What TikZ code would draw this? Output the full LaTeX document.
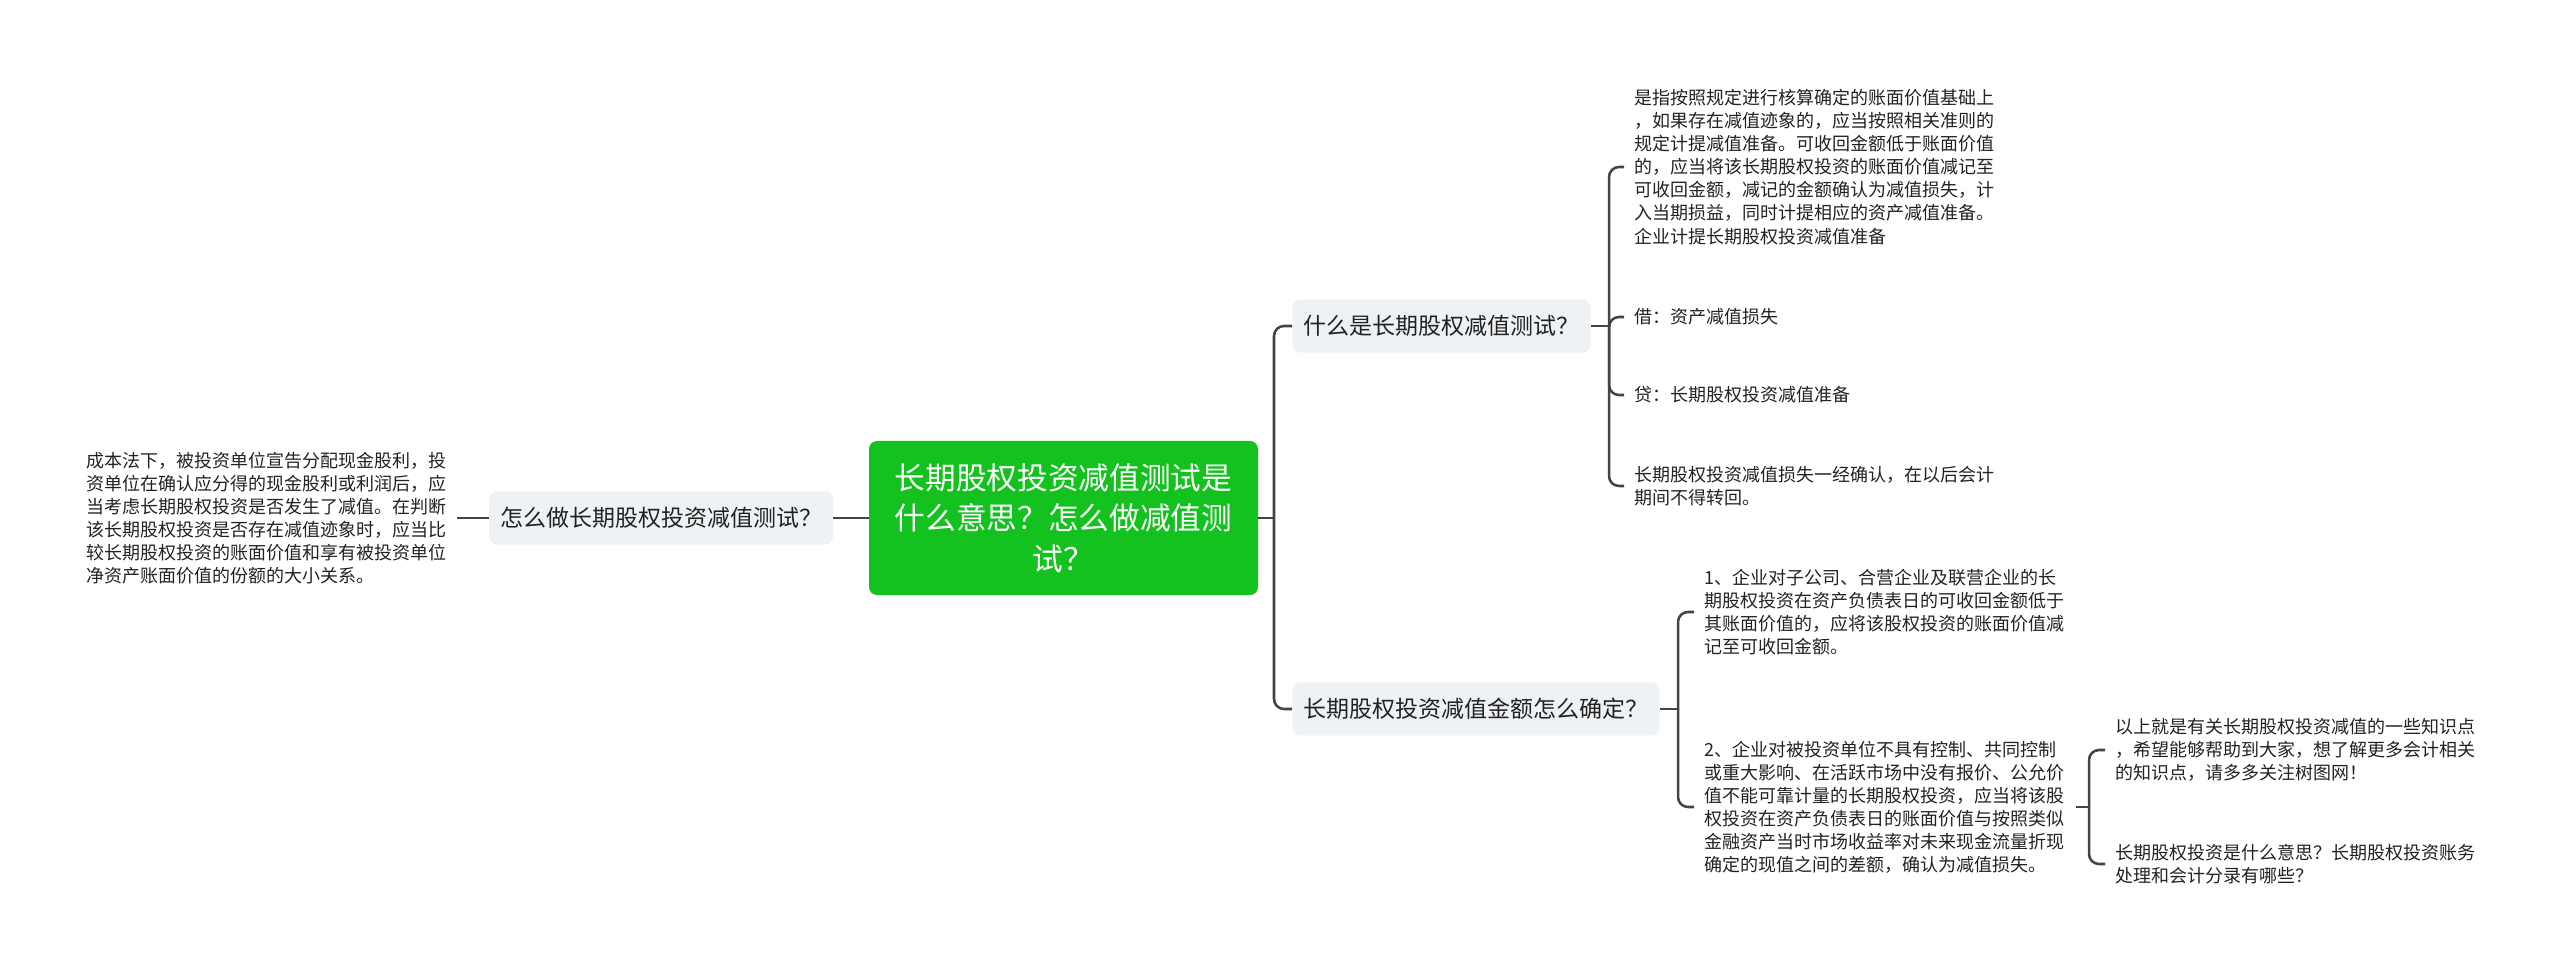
\documentclass[tikz,border=0pt]{standalone}
\usepackage{fontspec}
\setmainfont{Noto Sans CJK SC}
\newcommand{\cm}{^^^^ff0c}
\newcommand{\qm}{^^^^ff1f}
\newcommand{\cl}{^^^^ff1a}
\newcommand{\xm}{^^^^ff01}
\definecolor{rootgreen}{HTML}{13C11F}
\definecolor{topicgray}{HTML}{EFF2F5}
\definecolor{linkgray}{HTML}{444444}
\definecolor{inkgray}{HTML}{222222}
\tikzset{
  rootbox/.style={fill=rootgreen,text=white,rounded corners=6pt,align=center,inner sep=0pt,
    minimum width=291.75pt,minimum height=115.5pt,font=\fontsize{23pt}{30.4pt}\selectfont},
  topicbox/.style={fill=topicgray,text=inkgray,rounded corners=6pt,inner xsep=8.25pt,inner ysep=0pt,
    minimum height=40pt,font=\fontsize{17.25pt}{22pt}\selectfont},
  leaf/.style={text=inkgray,align=left,inner xsep=8pt,inner ysep=0pt,
    font=\fontsize{13.5pt}{17.3pt}\selectfont},
  link/.style={draw=linkgray,line width=1.9pt},
  bus/.style={link,rounded corners=7.5pt}
}
\begin{document}
\begin{tikzpicture}[x=0.75pt,y=-0.75pt]
  \useasboundingbox (0,0) rectangle (2560,973);
  \node[rootbox] (root) at (1063.5,518) {长期股权投资减值测试是\\什么意思\qm 怎么做减值测\\试\qm};
  \node[topicbox] (how) at (661,518) {怎么做长期股权投资减值测试\qm};
  \node[topicbox] (what) at (1441.5,326) {什么是长期股权减值测试\qm};
  \node[topicbox] (amount) at (1476,709) {长期股权投资减值金额怎么确定\qm};
  \node[leaf,anchor=east] (cost) at (457,518) {成本法下\cm 被投资单位宣告分配现金股利\cm 投\\资单位在确认应分得的现金股利或利润后\cm 应\\当考虑长期股权投资是否发生了减值。在判断\\该长期股权投资是否存在减值迹象时\cm 应当比\\较长期股权投资的账面价值和享有被投资单位\\净资产账面价值的份额的大小关系。};
  \node[leaf,anchor=west] (basis) at (1624,167) {是指按照规定进行核算确定的账面价值基础上\\\cm 如果存在减值迹象的\cm 应当按照相关准则的\\规定计提减值准备。可收回金额低于账面价值\\的\cm 应当将该长期股权投资的账面价值减记至\\可收回金额\cm 减记的金额确认为减值损失\cm 计\\入当期损益\cm 同时计提相应的资产减值准备。\\企业计提长期股权投资减值准备};
  \node[leaf,anchor=west] (debit) at (1624,317) {借\cl 资产减值损失};
  \node[leaf,anchor=west] (credit) at (1624,395) {贷\cl 长期股权投资减值准备};
  \node[leaf,anchor=west] (final) at (1624,486) {长期股权投资减值损失一经确认\cm 在以后会计\\期间不得转回。};
  \node[leaf,anchor=west] (first) at (1694,612) {1、企业对子公司、合营企业及联营企业的长\\期股权投资在资产负债表日的可收回金额低于\\其账面价值的\cm 应将该股权投资的账面价值减\\记至可收回金额。};
  \node[leaf,anchor=west] (second) at (1694,807) {2、企业对被投资单位不具有控制、共同控制\\或重大影响、在活跃市场中没有报价、公允价\\值不能可靠计量的长期股权投资\cm 应当将该股\\权投资在资产负债表日的账面价值与按照类似\\金融资产当时市场收益率对未来现金流量折现\\确定的现值之间的差额\cm 确认为减值损失。};
  \node[leaf,anchor=west] (hope) at (2105,750) {以上就是有关长期股权投资减值的一些知识点\\\cm 希望能够帮助到大家\cm 想了解更多会计相关\\的知识点\cm 请多多关注树图网\xm};
  \node[leaf,anchor=west] (more) at (2105,864) {长期股权投资是什么意思\qm 长期股权投资账务\\处理和会计分录有哪些\qm};
  \coordinate (rootfork) at (1274,518);
  \coordinate (whatfork) at (1609,326);
  \coordinate (amountfork) at (1678,709);
  \coordinate (secondfork) at (2089,807);
  \draw[link] (root.west) -- (how.east);
  \draw[link] (how.west) -- (cost.east);
  \draw[link] (root.east) -- (rootfork);
  \draw[link] (what.east) -- (whatfork);
  \draw[link] (amount.east) -- (amountfork);
  \draw[link] (second.east) -- (secondfork);
  \foreach \child in {what,amount}
    \draw[bus] (rootfork) |- (\child.west);
  \foreach \child in {basis,debit,credit,final}
    \draw[bus] (whatfork) |- (\child.west);
  \foreach \child in {first,second}
    \draw[bus] (amountfork) |- (\child.west);
  \foreach \child in {hope,more}
    \draw[bus] (secondfork) |- (\child.west);
\end{tikzpicture}
\end{document}
